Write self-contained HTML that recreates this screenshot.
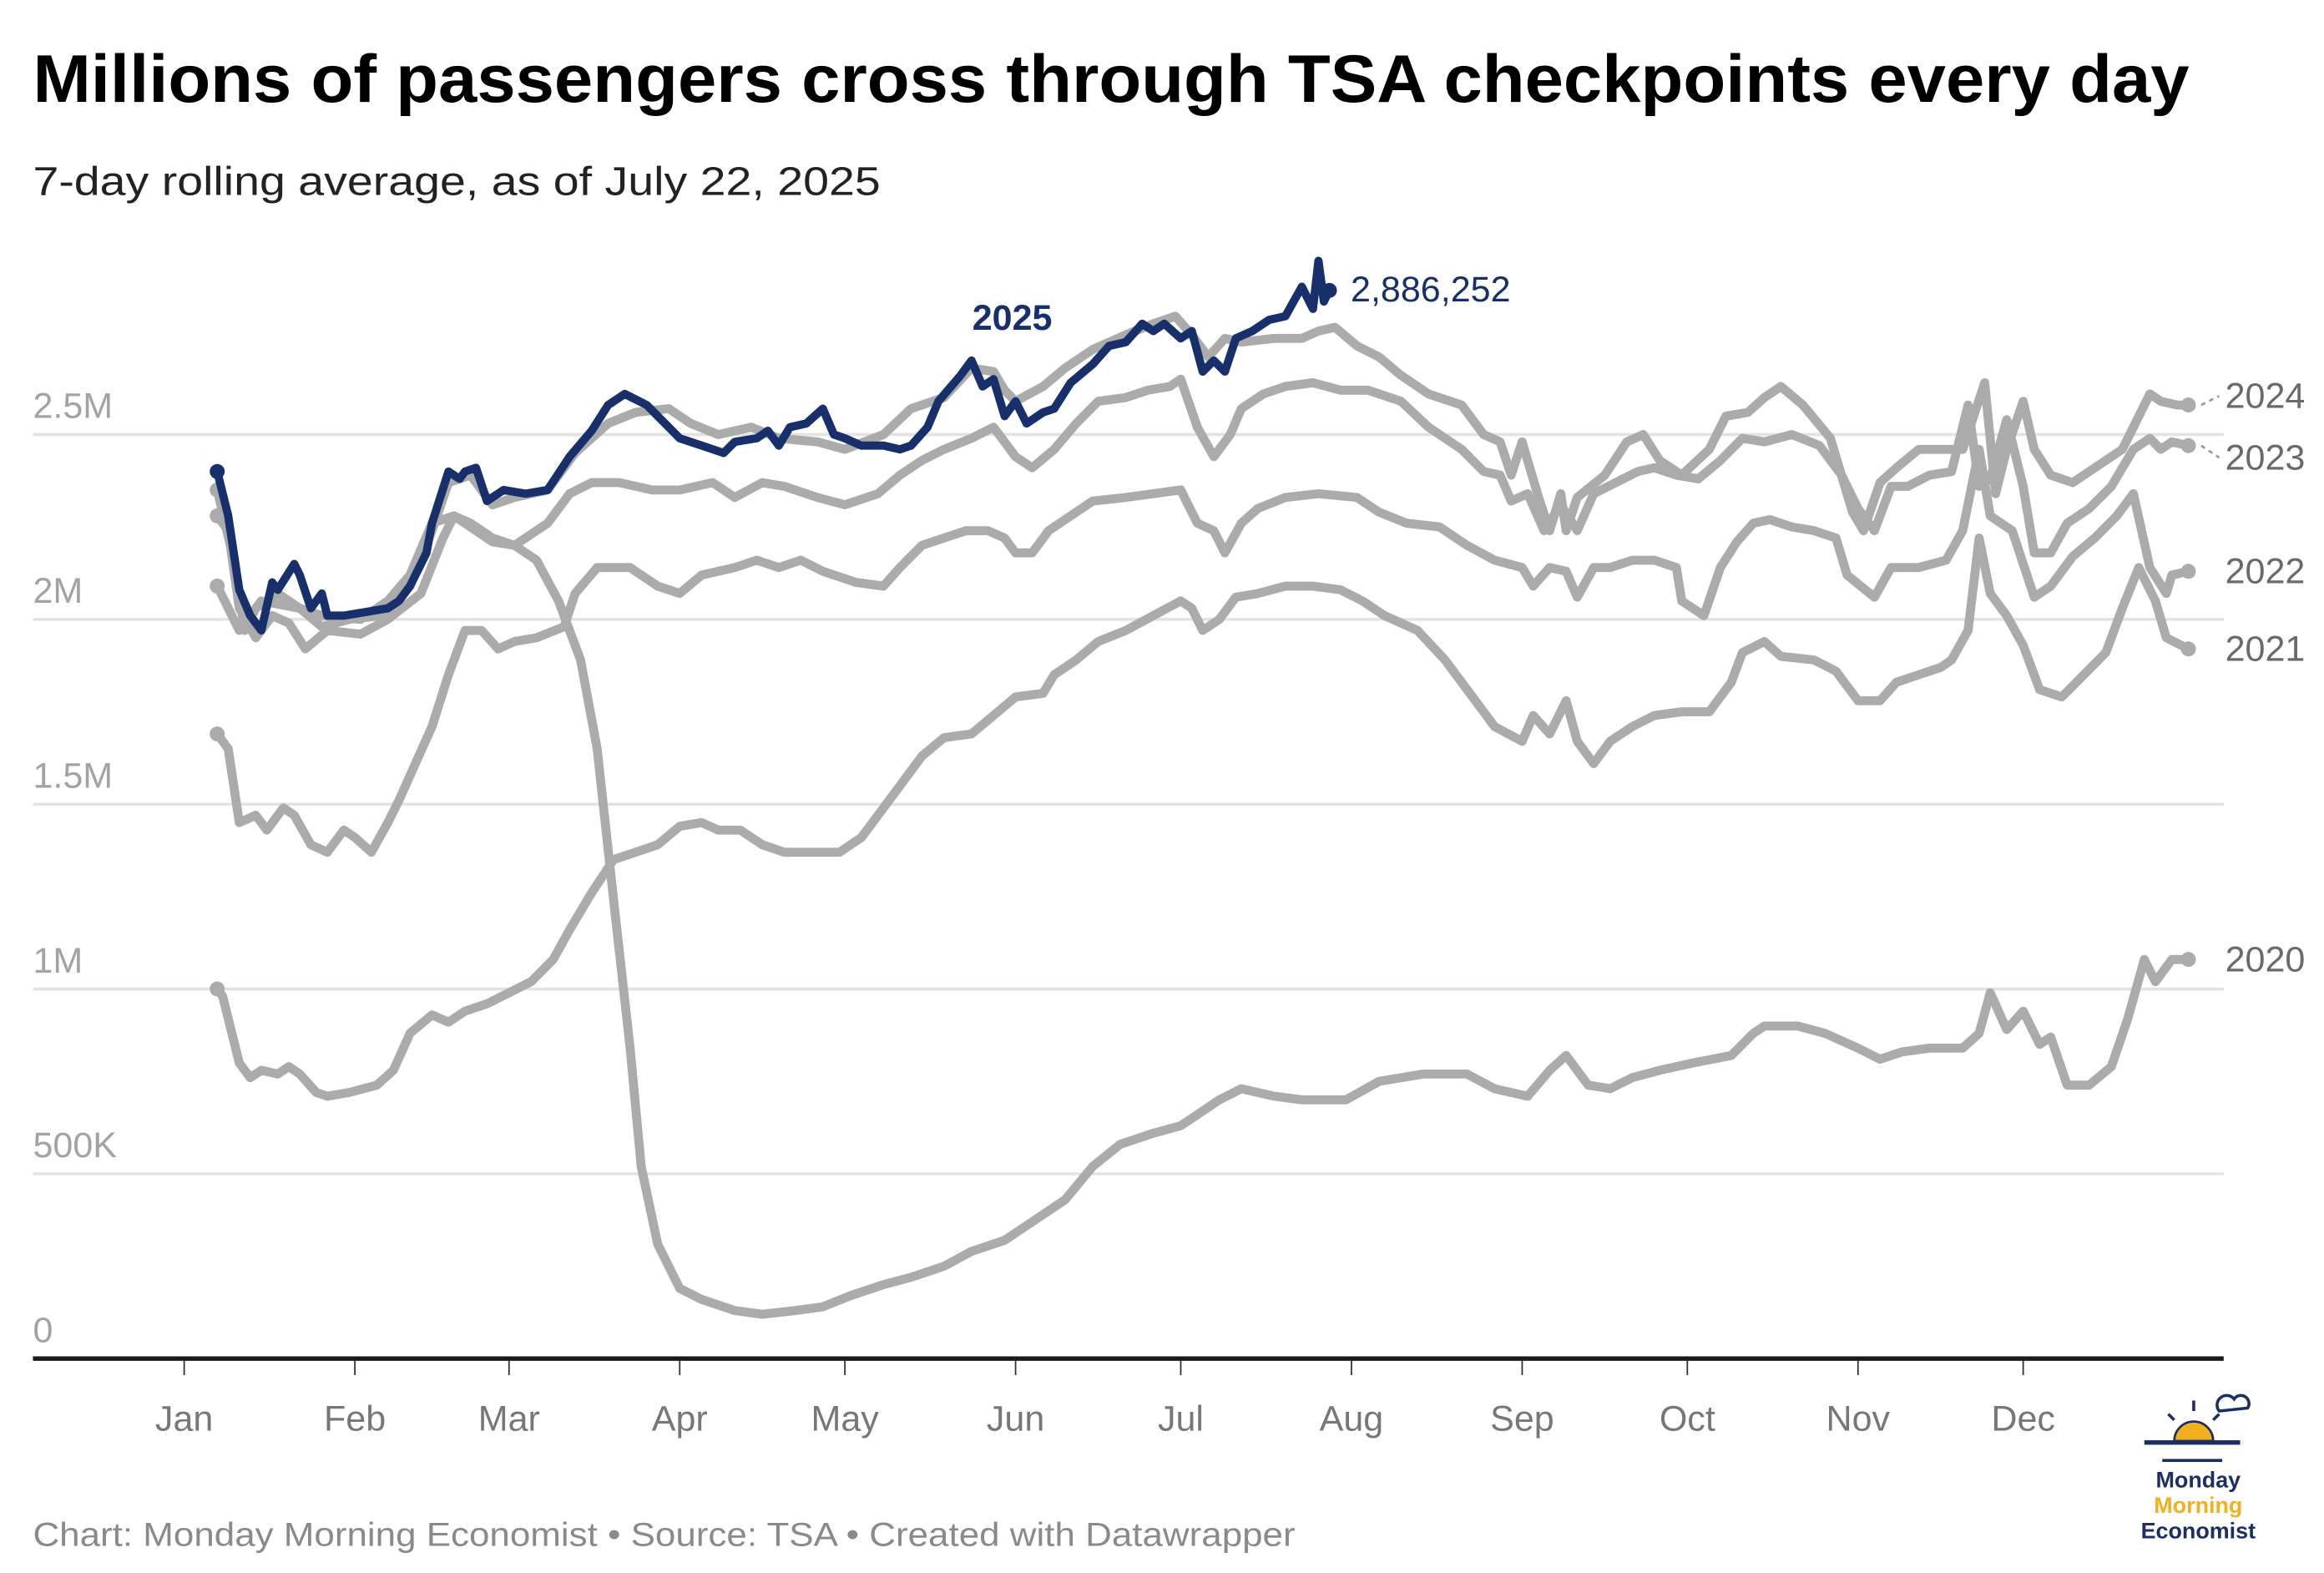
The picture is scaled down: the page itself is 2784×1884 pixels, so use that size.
<!DOCTYPE html>
<html><head><meta charset="utf-8"><style>
html,body{margin:0;padding:0;background:#fff;}
svg{display:block;}
text{font-family:"Liberation Sans",sans-serif;}
</style></head><body>
<svg id="chart" width="2784" height="1884" viewBox="0 0 1552 1050" xmlns="http://www.w3.org/2000/svg">
<rect width="1552" height="1050" fill="#fff"/>
<text x="22" y="68" font-size="45" font-weight="bold" fill="#000" textLength="1440" lengthAdjust="spacingAndGlyphs">Millions of passengers cross through TSA checkpoints every day</text>
<text x="22" y="130" font-size="27" fill="#222" textLength="566" lengthAdjust="spacingAndGlyphs">7-day rolling average, as of July 22, 2025</text>
<g id="grid"></g>
<g id="series"></g>
<g id="axis"></g>
<text x="22" y="1032" font-size="22" fill="#8a8a8a" textLength="843" lengthAdjust="spacingAndGlyphs">Chart: Monday Morning Economist • Source: TSA • Created with Datawrapper</text>
<g>
  <line x1="1432" y1="963" x2="1496" y2="963" stroke="#1b2f66" stroke-width="3"/>
  <line x1="1444" y1="975" x2="1484" y2="975" stroke="#1b2f66" stroke-width="2"/>
  <path d="M1452,962 a13,13 0 0 1 26,0 z" fill="#f2b01e" stroke="#1b2f66" stroke-width="1.5"/>
  <line x1="1465" y1="935" x2="1465" y2="942" stroke="#1b2f66" stroke-width="2"/>
  <line x1="1448" y1="944" x2="1452" y2="948" stroke="#1b2f66" stroke-width="2"/>
  <line x1="1482" y1="944" x2="1478" y2="948" stroke="#1b2f66" stroke-width="2"/>
  <path d="M1482,942 a6,6 0 0 1 10,-8 a5,5 0 0 1 9,6 z" fill="none" stroke="#1b2f66" stroke-width="2"/>
  <text x="1468" y="993" font-size="15" font-weight="bold" fill="#1b2f66" text-anchor="middle">Monday</text>
  <text x="1468" y="1010" font-size="15" font-weight="bold" fill="#f2b01e" text-anchor="middle">Morning</text>
  <text x="1468" y="1027" font-size="15" font-weight="bold" fill="#1b2f66" text-anchor="middle">Economist</text>
</g>
</svg>
<script>
const months = ["Jan","Feb","Mar","Apr","May","Jun","Jul","Aug","Sep","Oct","Nov","Dec"];
const monthStartDays = [0,31,59,90,120,151,181,212,243,273,304,334];
const yTicks = [0,0.5,1,1.5,2,2.5];
const yTickLabels = ["0","500K","1M","1.5M","2M","2.5M"];

const days2020 = [6,10,14,21,25,32,37,41,45,49,52,56,60,64,68,72,75,78,81,83,86,90,94,100,105,111,116,121,127,132,138,143,149,154,160,165,170,176,181,184,188,192,198,203,211,217,225,233,238,244,248,251,255,259,263,268,274,281,285,287,293,298,304,308,312,317,323,326,328,331,334,337,339,342,346,350,353,356,358,361,364];
const vals2020 = [2.09,1.97,2.05,2.03,2.01,2.00,2.05,2.12,2.26,2.28,2.26,2.22,2.20,2.16,2.05,1.89,1.65,1.24,0.84,0.52,0.31,0.19,0.16,0.13,0.12,0.13,0.14,0.17,0.20,0.22,0.25,0.29,0.32,0.37,0.43,0.52,0.58,0.61,0.63,0.66,0.70,0.73,0.71,0.70,0.70,0.75,0.77,0.77,0.73,0.71,0.78,0.82,0.74,0.73,0.76,0.78,0.80,0.82,0.88,0.90,0.90,0.88,0.84,0.81,0.83,0.84,0.84,0.88,0.99,0.89,0.94,0.85,0.87,0.74,0.74,0.79,0.92,1.08,1.02,1.08,1.08];

const days2021 = [6,7,10,12,14,17,19,21,24,26,30,35,38,41,45,48,51,55,59,63,67,70,74,78,82,86,90,94,97,101,105,109,115,119,123,127,130,134,138,143,147,151,156,158,162,166,171,176,181,183,185,188,191,195,200,205,210,214,218,224,229,234,238,243,245,248,251,253,256,259,263,267,272,277,281,283,287,290,296,300,304,308,311,315,319,321,324,326,328,331,334,337,341,345,349,352,355,358,360,364];
const vals2021 = [1.00,0.98,0.80,0.76,0.78,0.77,0.79,0.77,0.72,0.71,0.72,0.74,0.78,0.88,0.93,0.91,0.94,0.96,0.99,1.02,1.08,1.16,1.26,1.35,1.37,1.39,1.44,1.45,1.43,1.43,1.39,1.37,1.37,1.37,1.41,1.49,1.55,1.63,1.68,1.69,1.74,1.79,1.80,1.85,1.89,1.94,1.97,2.01,2.05,2.03,1.97,2.00,2.06,2.07,2.09,2.09,2.08,2.05,2.01,1.97,1.89,1.79,1.71,1.67,1.74,1.69,1.78,1.67,1.61,1.67,1.71,1.74,1.75,1.75,1.83,1.91,1.94,1.90,1.89,1.86,1.78,1.78,1.83,1.85,1.87,1.89,1.97,2.22,2.07,2.01,1.93,1.81,1.79,1.85,1.91,2.03,2.14,2.05,1.95,1.92];

const days2022 = [6,8,10,13,15,18,20,23,26,29,31,34,37,39,42,45,48,51,54,57,60,64,69,71,75,81,86,90,94,100,104,108,112,116,122,127,130,134,138,142,146,149,151,154,157,161,165,171,176,181,184,187,189,192,195,200,206,213,217,222,228,233,238,243,245,248,251,253,256,259,263,267,271,272,276,279,282,285,288,292,296,300,302,307,310,315,320,323,326,328,332,336,339,343,347,351,354,357,360,361,364];
const vals2022 = [1.69,1.65,1.45,1.47,1.43,1.49,1.47,1.39,1.37,1.43,1.41,1.37,1.45,1.51,1.61,1.71,1.85,1.97,1.97,1.92,1.94,1.95,1.98,2.07,2.14,2.14,2.09,2.07,2.12,2.14,2.16,2.14,2.16,2.13,2.10,2.09,2.14,2.20,2.22,2.24,2.24,2.22,2.18,2.18,2.24,2.28,2.32,2.33,2.34,2.35,2.26,2.24,2.18,2.26,2.30,2.33,2.34,2.33,2.29,2.26,2.25,2.20,2.16,2.14,2.09,2.14,2.13,2.06,2.14,2.14,2.16,2.16,2.14,2.05,2.01,2.14,2.21,2.26,2.27,2.25,2.24,2.22,2.12,2.06,2.14,2.14,2.16,2.24,2.46,2.28,2.24,2.06,2.09,2.17,2.22,2.28,2.34,2.14,2.07,2.12,2.13];

const days2023 = [6,8,10,13,16,19,22,26,32,37,43,47,49,52,56,60,66,70,74,79,85,90,96,100,105,109,115,120,126,130,134,138,143,147,151,154,158,162,166,171,175,179,181,184,187,190,192,196,200,205,210,215,221,226,232,236,239,241,244,247,250,253,256,260,264,267,271,275,279,283,287,292,297,301,304,307,310,313,317,321,324,326,328,331,334,336,339,342,346,350,354,357,359,361,364];
const vals2023 = [2.28,2.24,2.03,1.95,2.01,1.99,1.92,1.97,1.96,2.00,2.07,2.22,2.28,2.25,2.21,2.20,2.26,2.34,2.37,2.37,2.35,2.35,2.37,2.33,2.37,2.36,2.33,2.31,2.34,2.39,2.43,2.46,2.49,2.52,2.44,2.41,2.46,2.53,2.59,2.60,2.62,2.63,2.65,2.52,2.44,2.50,2.57,2.61,2.63,2.64,2.62,2.62,2.59,2.52,2.46,2.40,2.39,2.32,2.34,2.24,2.31,2.24,2.34,2.37,2.40,2.41,2.39,2.38,2.43,2.49,2.48,2.50,2.47,2.39,2.30,2.24,2.36,2.36,2.39,2.40,2.58,2.36,2.38,2.54,2.36,2.18,2.18,2.26,2.30,2.36,2.46,2.49,2.46,2.48,2.47];

const days2024 = [6,9,11,13,17,21,25,30,36,41,45,48,52,56,60,66,71,77,82,88,92,97,103,108,115,120,127,132,138,143,147,149,151,156,160,165,171,176,180,183,186,189,192,198,203,206,209,213,217,221,226,232,236,239,241,243,246,248,250,251,253,258,262,265,268,272,277,280,284,287,290,294,299,303,305,308,311,315,320,323,327,329,331,334,336,339,343,347,352,354,357,359,362,364];
const vals2024 = [2.35,2.16,1.97,2.03,2.07,2.03,1.98,2.00,2.01,2.09,2.24,2.37,2.39,2.31,2.33,2.35,2.45,2.53,2.56,2.57,2.53,2.50,2.52,2.49,2.48,2.46,2.50,2.57,2.60,2.68,2.67,2.62,2.59,2.63,2.68,2.73,2.77,2.80,2.82,2.77,2.71,2.76,2.75,2.76,2.76,2.78,2.79,2.74,2.71,2.66,2.61,2.58,2.50,2.48,2.39,2.48,2.33,2.24,2.34,2.24,2.33,2.39,2.48,2.50,2.43,2.39,2.46,2.55,2.56,2.60,2.63,2.58,2.49,2.29,2.24,2.37,2.41,2.46,2.46,2.46,2.64,2.34,2.46,2.59,2.46,2.39,2.37,2.41,2.46,2.52,2.61,2.59,2.58,2.58];

const days2025 = [6,8,10,12,14,16,17,20,21,23,25,26,29,33,37,39,41,44,45,48,50,51,53,55,58,62,66,70,74,77,80,84,88,90,94,98,100,104,106,108,110,113,116,118,120,123,127,130,132,135,137,141,143,145,147,149,151,153,156,158,161,165,168,171,174,176,178,181,183,185,187,189,191,194,197,200,203,205,206,207,208];
const vals2025 = [2.40,2.28,2.08,2.01,1.97,2.10,2.08,2.15,2.12,2.03,2.07,2.01,2.01,2.02,2.03,2.05,2.09,2.18,2.26,2.40,2.38,2.40,2.41,2.32,2.35,2.34,2.35,2.44,2.51,2.58,2.61,2.58,2.52,2.49,2.47,2.45,2.48,2.49,2.51,2.47,2.52,2.53,2.57,2.50,2.49,2.47,2.47,2.46,2.47,2.52,2.59,2.66,2.70,2.63,2.65,2.55,2.59,2.53,2.56,2.57,2.64,2.69,2.74,2.75,2.80,2.78,2.80,2.76,2.78,2.67,2.70,2.67,2.76,2.78,2.81,2.82,2.90,2.84,2.97,2.86,2.89];

const NS = "http://www.w3.org/2000/svg";
const X0 = 123, PXDAY = 3.677, Y0 = 907, PXM = 246.8;
function xs(d){ return X0 + d*PXDAY; }
function ys(v){ return Y0 - v*PXM; }
function mk(tag, attrs, parent){
  const e = document.createElementNS(NS, tag);
  for (const k in attrs) e.setAttribute(k, attrs[k]);
  parent.appendChild(e);
  return e;
}
const grid = document.getElementById('grid');
yTicks.forEach((t,i)=>{
  if (t>0){
    const gl = mk('line',{x1:22,x2:1485,y1:ys(t),y2:ys(t),stroke:'#e3e3e3','stroke-width':2},grid);
    
    
  }
  const lb = mk('text',{x:22,y:ys(t)-11,'font-size':24,fill:'#a3a3a3'},grid);
  lb.textContent = yTickLabels[i];
  
  
});
const axis = document.getElementById('axis');
const al = mk('line',{x1:22,x2:1485,y1:907,y2:907,stroke:'#1a1a1a','stroke-width':3},axis);


months.forEach((m,i)=>{
  const x = xs(monthStartDays[i]);
  const tk = mk('line',{x1:x,x2:x,y1:908,y2:918,stroke:'#333','stroke-width':1},axis);
  
  
  const lb = mk('text',{x:x,y:955,'font-size':24,fill:'#777','text-anchor':'middle'},axis);
  lb.textContent = m;
  
  
});
const series = document.getElementById('series');
function drawLine(days, vals, color, w, name){
  let d = '';
  days.forEach((dd,i)=>{ d += (i?'L':'M') + xs(dd).toFixed(1) + ',' + ys(vals[i]).toFixed(1); });
  const p = mk('path',{d:d,fill:'none',stroke:color,'stroke-width':w,'stroke-linejoin':'round','stroke-linecap':'round'},series);
  
  
  const n = days.length-1;
  const c1 = mk('circle',{cx:xs(days[0]),cy:ys(vals[0]),r:5,fill:color},series);
  
  
  const c2 = mk('circle',{cx:xs(days[n]),cy:ys(vals[n]),r:5,fill:color},series);
  
  
}
const gray = '#ababab';
drawLine(days2020, vals2020, gray, 6, 'line-2020');
drawLine(days2021, vals2021, gray, 6, 'line-2021');
drawLine(days2022, vals2022, gray, 6, 'line-2022');
drawLine(days2023, vals2023, gray, 6, 'line-2023');
drawLine(days2024, vals2024, gray, 6, 'line-2024');
drawLine(days2025, vals2025, '#17306b', 5.5, 'line-2025');

const labelYears = ["2024","2023","2022","2021","2020"];
const labelVals = [vals2024[vals2024.length-1], vals2023[vals2023.length-1], vals2022[vals2022.length-1], vals2021[vals2021.length-1], vals2020[vals2020.length-1]];
labelYears.forEach((yr,i)=>{
  const yv = ys(labelVals[i]);
  const ty = yv + 8 + (i===1 ? 8 : (i===0 ? -6 : 0));
  const lb = mk('text',{x:1486,y:ty,'font-size':24,fill:'#6a6a6a'},series);
  lb.textContent = yr;
  
  
  if (i<2){
    const dl = mk('line',{x1:1470,y1:yv,x2:1482,y2:ty-8,stroke:'#999','stroke-width':1.5,'stroke-dasharray':'3,3'},series);
    
    
  }
});
const l25 = mk('text',{x:676,y:220,'font-size':24,'font-weight':'bold',fill:'#17306b','text-anchor':'middle'},series);
l25.textContent = '2025';


const lastVal = mk('text',{x:902,y:201,'font-size':24,fill:'#17306b'},series);
lastVal.textContent = '2,886,252';


</script>
</body></html>
